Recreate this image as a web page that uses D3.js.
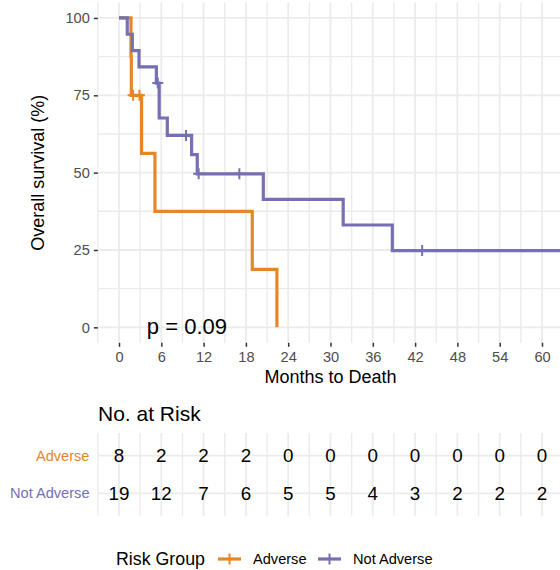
<!DOCTYPE html>
<html>
<head>
<meta charset="utf-8">
<script src="https://cdn.jsdelivr.net/npm/d3@7"></script>
<style>
  html, body { margin: 0; padding: 0; background: #fff; }
  svg { display: block; font-family: "Liberation Sans", Arial, Helvetica, sans-serif; }
</style>
</head>
<body>
<svg id="chart" width="560" height="570"></svg>
<script>
// ---- data ----
const groups = ["Adverse", "Not Adverse"];
const groupColors = ["#E5862B", "#7570B3"];

const timeBreaks = [0, 6, 12, 18, 24, 30, 36, 42, 48, 54, 60];
const survBreaks = [0, 25, 50, 75, 100];

// Kaplan-Meier step curves: event times (months) and survival (%) after each step
const adverseTimes = [0, 1.7, 1.75, 3.2, 5.1, 18.9, 22.4];
const adverseSurv  = [100, 87.5, 75, 56.25, 37.5, 18.75, 0];
const adverseCensorTimes = [2.0, 2.9];
const adverseCensorSurv  = [75, 75];

const notAdverseTimes = [0, 1.17, 1.89, 2.84, 5.3, 5.7, 6.85, 10.3, 11.1, 20.47, 31.8, 38.77, 66];
const notAdverseSurv  = [100, 94.74, 89.47, 84.21, 78.95, 67.67, 62.03, 55.83, 49.62, 41.35, 33.08, 24.81, 24.81];
const notAdverseCensorTimes = [5.5, 9.5, 11.3, 17.07, 43.0];
const notAdverseCensorSurv  = [78.95, 62.03, 49.62, 49.62, 24.81];

// numbers at risk at each time break
const adverseRisk    = [8, 2, 2, 2, 0, 0, 0, 0, 0, 0, 0];
const notAdverseRisk = [19, 12, 7, 6, 5, 5, 4, 3, 2, 2, 2];

const pValueText = "p = 0.09";

// ---- layout ----
const svg = d3.select("#chart");
const panel = { left: 97.85, right: 563.15, top: 2.5, bottom: 342.8 };
const gridColor = "#EBEBEB";
const tickTextColor = "#4D4D4D";

const x = d3.scaleLinear().domain([-3, 63]).range([panel.left, panel.right]);
const y = d3.scaleLinear().domain([-5, 105]).range([panel.bottom, panel.top]);

const xMinor = d3.range(-3, 64, 6);
const yMinor = [12.5, 37.5, 62.5, 87.5];

// clip for the survival panel
svg.append("defs").append("clipPath").attr("id", "panelClip")
  .append("rect")
  .attr("x", panel.left).attr("y", panel.top)
  .attr("width", panel.right - panel.left).attr("height", panel.bottom - panel.top);

// ---- grid: survival panel ----
const grid = svg.append("g");
grid.selectAll(".vminor").data(xMinor).join("line")
  .attr("x1", d => x(d)).attr("x2", d => x(d))
  .attr("y1", panel.top).attr("y2", panel.bottom)
  .attr("stroke", gridColor).attr("stroke-width", 1.4);
grid.selectAll(".hminor").data(yMinor).join("line")
  .attr("x1", panel.left).attr("x2", panel.right)
  .attr("y1", d => y(d)).attr("y2", d => y(d))
  .attr("stroke", gridColor).attr("stroke-width", 1.4);
grid.selectAll(".vmajor").data(timeBreaks).join("line")
  .attr("x1", d => x(d)).attr("x2", d => x(d))
  .attr("y1", panel.top).attr("y2", panel.bottom)
  .attr("stroke", gridColor).attr("stroke-width", 1.8);
grid.selectAll(".hmajor").data(survBreaks).join("line")
  .attr("x1", panel.left).attr("x2", panel.right)
  .attr("y1", d => y(d)).attr("y2", d => y(d))
  .attr("stroke", gridColor).attr("stroke-width", 1.8);

// ---- axes ----
const xAxis = d3.axisBottom(x).tickValues(timeBreaks).tickSize(4).tickPadding(4);
const yAxis = d3.axisLeft(y).tickValues(survBreaks).tickSize(4).tickPadding(4);

const gx = svg.append("g").attr("transform", `translate(0,${panel.bottom})`).call(xAxis);
const gy = svg.append("g").attr("transform", `translate(${panel.left},0)`).call(yAxis);
[gx, gy].forEach(g => {
  g.select(".domain").remove();
  g.selectAll(".tick line").attr("stroke", "#333").attr("stroke-width", 1.5);
  g.selectAll(".tick text").attr("fill", tickTextColor)
    .style("font-size", "14.6px").style("font-family", "Liberation Sans, Arial, sans-serif");
});
gx.selectAll(".tick text").attr("dy", "0.71em").attr("y", 8.5);

// axis titles
svg.append("text")
  .attr("x", (panel.left + panel.right) / 2).attr("y", 383)
  .attr("text-anchor", "middle").style("font-size", "18px").attr("fill", "#000")
  .text("Months to Death");
svg.append("text")
  .attr("transform", `translate(44,${(panel.top + panel.bottom) / 2}) rotate(-90)`)
  .attr("text-anchor", "middle").style("font-size", "18px").attr("fill", "#000")
  .text("Overall survival (%)");

// ---- survival curves ----
const curves = [
  { times: adverseTimes, surv: adverseSurv, ct: adverseCensorTimes, cs: adverseCensorSurv },
  { times: notAdverseTimes, surv: notAdverseSurv, ct: notAdverseCensorTimes, cs: notAdverseCensorSurv }
];
const stepLine = d3.line().x(d => x(d[0])).y(d => y(d[1])).curve(d3.curveStepAfter);
const plotG = svg.append("g").attr("clip-path", "url(#panelClip)");
const armLen = 5.5;

curves.forEach((c, i) => {
  const pts = c.times.map((t, k) => [t, c.surv[k]]);
  plotG.append("path")
    .attr("d", stepLine(pts))
    .attr("fill", "none")
    .attr("stroke", groupColors[i])
    .attr("stroke-width", 3.2)
    .attr("stroke-linejoin", "miter")
    .attr("stroke-linecap", "butt");
  const cens = c.ct.map((t, k) => [t, c.cs[k]]);
  plotG.selectAll(null).data(cens).join("path")
    .attr("d", d => {
      const cx = x(d[0]), cy = y(d[1]);
      return `M${cx - armLen},${cy}H${cx + armLen}M${cx},${cy - armLen}V${cy + armLen}`;
    })
    .attr("stroke", groupColors[i])
    .attr("stroke-width", 2)
    .attr("fill", "none");
});

// p-value annotation
svg.append("text")
  .attr("x", x(3.95)).attr("y", 334)
  .style("font-size", "22px").attr("fill", "#000")
  .text(pValueText);

// ---- risk table ----
const tableTop = 433, tableBottom = 515.7;
const rowY = d3.scalePoint().domain(groups).range([455.7, 493.3]);

svg.append("text")
  .attr("x", 98).attr("y", 421)
  .style("font-size", "21px").attr("fill", "#000")
  .text("No. at Risk");

const tgrid = svg.append("g");
tgrid.selectAll(".tvminor").data(xMinor).join("line")
  .attr("x1", d => x(d)).attr("x2", d => x(d))
  .attr("y1", tableTop).attr("y2", tableBottom)
  .attr("stroke", gridColor).attr("stroke-width", 1.4);
tgrid.selectAll(".tvmajor").data(timeBreaks).join("line")
  .attr("x1", d => x(d)).attr("x2", d => x(d))
  .attr("y1", tableTop).attr("y2", tableBottom)
  .attr("stroke", gridColor).attr("stroke-width", 1.8);
tgrid.selectAll(".thmajor").data(groups).join("line")
  .attr("x1", panel.left).attr("x2", panel.right)
  .attr("y1", d => rowY(d)).attr("y2", d => rowY(d))
  .attr("stroke", gridColor).attr("stroke-width", 1.8);

const riskRows = [adverseRisk, notAdverseRisk];
riskRows.forEach((row, i) => {
  const g = groups[i];
  svg.append("text")
    .attr("x", 89.5).attr("y", rowY(g)).attr("dy", "0.33em")
    .attr("text-anchor", "end").style("font-size", "14.6px")
    .attr("fill", groupColors[i]).text(g);
  svg.selectAll(null).data(row.map((v, k) => [timeBreaks[k], v])).join("text")
    .attr("x", d => x(d[0])).attr("y", rowY(g)).attr("dy", "0.36em")
    .attr("text-anchor", "middle").style("font-size", "18.8px").attr("fill", "#000")
    .text(d => d[1]);
});

// ---- legend ----
const legY = 559;
svg.append("text").attr("x", 116).attr("y", 564.5)
  .style("font-size", "17.8px").attr("fill", "#000").text("Risk Group");
const legendItems = [
  { keyX: 218, textX: 253 },
  { keyX: 318, textX: 353 }
];
legendItems.forEach((it, i) => {
  const lg = svg.append("g");
  lg.append("line").attr("x1", it.keyX).attr("x2", it.keyX + 23)
    .attr("y1", legY).attr("y2", legY)
    .attr("stroke", groupColors[i]).attr("stroke-width", 3.2);
  lg.append("line").attr("x1", it.keyX + 11.5).attr("x2", it.keyX + 11.5)
    .attr("y1", legY - armLen).attr("y2", legY + armLen)
    .attr("stroke", groupColors[i]).attr("stroke-width", 2);
  lg.append("text").attr("x", it.textX).attr("y", legY).attr("dy", "0.35em")
    .style("font-size", "14.6px").attr("fill", "#000").text(groups[i]);
});
</script>
</body>
</html>
